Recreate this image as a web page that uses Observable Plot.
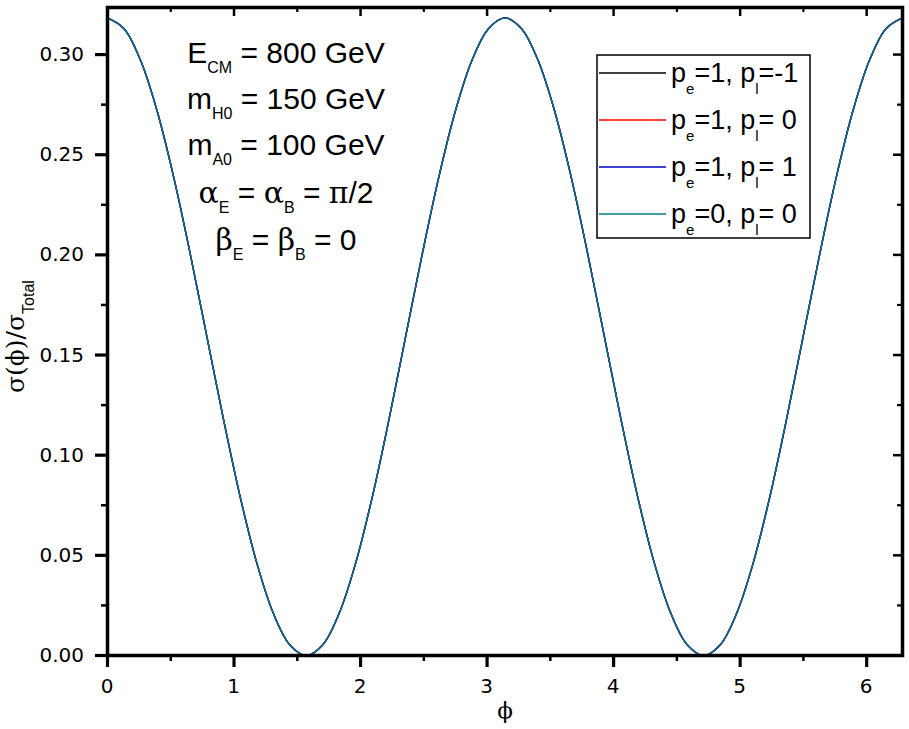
<!DOCTYPE html>
<html>
<head>
<meta charset="utf-8">
<script src="https://cdn.jsdelivr.net/npm/d3@7"></script>
<script src="https://cdn.jsdelivr.net/npm/@observablehq/plot@0.6"></script>
<style>
  body { margin: 0; background: #fff; }
  #chart { position: relative; width: 909px; height: 729px; }
</style>
</head>
<body>
<div id="chart"></div>
<script>
// ---- data ----
const phi = [0, 0.1309, 0.2618, 0.3927, 0.5236, 0.6545, 0.7854, 0.9163, 1.0472, 1.1781, 1.3090, 1.4399,
  1.5708, 1.7017, 1.8326, 1.9635, 2.0944, 2.2253, 2.3562, 2.4871, 2.6180, 2.7489, 2.8798, 3.0107,
  3.1416, 3.2725, 3.4034, 3.5343, 3.6652, 3.7961, 3.9270, 4.0579, 4.1888, 4.3197, 4.4506, 4.5815,
  4.7124, 4.8433, 4.9742, 5.1051, 5.2360, 5.3669, 5.4978, 5.6287, 5.7596, 5.8905, 6.0214, 6.1523, 6.2832];
const sigmaRatio = [0.3183, 0.3129, 0.2970, 0.2717, 0.2387, 0.2003, 0.1592, 0.1180, 0.0796, 0.0466, 0.0213, 0.0054,
  0.0000, 0.0054, 0.0213, 0.0466, 0.0796, 0.1180, 0.1592, 0.2003, 0.2387, 0.2717, 0.2970, 0.3129,
  0.3183, 0.3129, 0.2970, 0.2717, 0.2387, 0.2003, 0.1592, 0.1180, 0.0796, 0.0466, 0.0213, 0.0054,
  0.0000, 0.0054, 0.0213, 0.0466, 0.0796, 0.1180, 0.1592, 0.2003, 0.2387, 0.2717, 0.2970, 0.3129, 0.3183];
// all four polarisation curves coincide in the picture
const seriesNames = ["pe=1, pl=-1", "pe=1, pl=0", "pe=1, pl=1", "pe=0, pl=0"];
const seriesColors = ["#000000", "#ff0000", "#0000cc", "#007f7f"];
const seriesPe = ["1", "1", "1", "0"];
const seriesPl = ["-1", " 0", " 1", " 0"];
const xMajor = [0, 1, 2, 3, 4, 5, 6];
const xMinor = [0.5, 1.5, 2.5, 3.5, 4.5, 5.5];
const yMajor = [0, 0.05, 0.10, 0.15, 0.20, 0.25, 0.30];
const yMinor = [0.025, 0.075, 0.125, 0.175, 0.225, 0.275];
const xTickLabels = ["0", "1", "2", "3", "4", "5", "6"];
const yTickLabels = ["0.00", "0.05", "0.10", "0.15", "0.20", "0.25", "0.30"];

const rows = [];
seriesNames.forEach((s) => phi.forEach((p, j) => rows.push({series: s, phi: p, v: sigmaRatio[j]})));

const font = "'Liberation Sans', Arial, sans-serif";
const tickFont = "'DejaVu Sans', 'Liberation Sans', sans-serif";
const sym = "'DejaVu Serif', 'Liberation Serif', serif";
const W = 909, H = 729;
const mL = 107, mT = 7, mR = 7, mB = 74;
const pw = W - mL - mR, ph = H - mT - mB;

const plot = Plot.plot({
  width: W, height: H,
  marginLeft: mL, marginTop: mT, marginRight: mR, marginBottom: mB,
  style: {fontFamily: font, color: "#000", background: "#fff"},
  x: {domain: [0, 6.2832], label: null, axis: null},
  y: {domain: [0, 0.3235], label: null, axis: null},
  color: {domain: seriesNames, range: seriesColors},
  marks: [
    Plot.line(rows, {x: "phi", y: "v", z: "series", stroke: "series",
      strokeWidth: 1.4, curve: "catmull-rom",
      strokeOpacity: d => d.series === seriesNames[3] ? 0.9 : 1}),
    // bottom outward ticks
    Plot.ruleX(xMajor, {x: d => d, insetTop: ph, insetBottom: -12, strokeWidth: 3.2}),
    Plot.ruleX(xMinor, {x: d => d, insetTop: ph, insetBottom: -6, strokeWidth: 2.5}),
    // top inward ticks
    Plot.ruleX(xMajor, {x: d => d, insetBottom: ph - 9, strokeWidth: 2.5}),
    Plot.ruleX(xMinor, {x: d => d, insetBottom: ph - 5, strokeWidth: 2.2}),
    // left outward ticks
    Plot.ruleY(yMajor, {y: d => d, insetRight: pw, insetLeft: -12, strokeWidth: 3.2}),
    Plot.ruleY(yMinor, {y: d => d, insetRight: pw, insetLeft: -6, strokeWidth: 2.5}),
    // right inward ticks
    Plot.ruleY(yMajor, {y: d => d, insetLeft: pw - 9, strokeWidth: 2.5}),
    Plot.ruleY(yMinor, {y: d => d, insetLeft: pw - 5, strokeWidth: 2.2}),
    Plot.frame({stroke: "#000", strokeWidth: 3.5})
  ]
});
document.getElementById("chart").appendChild(plot);

const svg = d3.select(plot);
const xs = plot.scale("x"), ys = plot.scale("y");

// tick labels, placed through Plot's scales
const tl = svg.append("g").attr("font-family", tickFont).attr("font-size", 20).attr("fill", "#000");
xMajor.forEach((v, i) => {
  tl.append("text").attr("x", xs.apply(v)).attr("y", H - mB + 38)
    .attr("text-anchor", "middle").text(xTickLabels[i]);
});
yMajor.forEach((v, i) => {
  tl.append("text").attr("x", mL - 23).attr("y", ys.apply(v) + 7)
    .attr("text-anchor", "end").text(yTickLabels[i]);
});

// rich text with subscripts: parts = [text, isSub, fontFamily]
function rich(g, x, y, parts, size, subSize, subDy, anchor) {
  const t = g.append("text").attr("x", x).attr("y", y)
    .attr("font-family", font).attr("font-size", size).attr("fill", "#000")
    .attr("text-anchor", anchor || "start");
  let prevSub = false;
  parts.forEach(([s, isSub, fam]) => {
    const ts = t.append("tspan").text(s);
    if (isSub) { ts.attr("font-size", subSize).attr("dy", prevSub ? 0 : subDy); prevSub = true; }
    else { if (prevSub) ts.attr("dy", -subDy); prevSub = false; }
    if (fam) ts.attr("font-family", fam);
  });
  return t;
}

// annotation block
const ann = svg.append("g");
const aS = 30, aSub = 16, aDy = 10, ax = 286;
rich(ann, ax, 63, [["E", false], ["CM", true], [" = 800 GeV", false]], aS, aSub, aDy, "middle");
rich(ann, ax, 109, [["m", false], ["H0", true], [" = 150 GeV", false]], aS, aSub, aDy, "middle");
rich(ann, ax, 155, [["m", false], ["A0", true], [" = 100 GeV", false]], aS, aSub, aDy, "middle");
rich(ann, ax, 203, [["α", false, sym], ["E", true], [" = ", false], ["α", false, sym], ["B", true], [" = ", false], ["π", false, sym], ["/2", false]], aS, aSub, aDy, "middle");
rich(ann, ax, 250, [["β", false, sym], ["E", true], [" = ", false], ["β", false, sym], ["B", true], [" = 0", false]], aS, aSub, aDy, "middle");

// legend
const lg = svg.append("g");
lg.append("rect").attr("x", 597).attr("y", 55).attr("width", 213).attr("height", 183)
  .attr("fill", "#fff").attr("stroke", "#000").attr("stroke-width", 1.5);
seriesNames.forEach((s, i) => {
  const yy = 73 + i * 47;
  lg.append("line").attr("x1", 599).attr("x2", 666).attr("y1", yy).attr("y2", yy)
    .attr("stroke", seriesColors[i]).attr("stroke-width", 1.3);
  rich(lg, 671, yy + 9, [["p", false], ["e", true], ["=" + seriesPe[i] + ", p", false], ["l", true], ["=" + seriesPl[i], false]], 27, 15, 12, "start");
});

// axis titles
rich(svg.append("g"), 505, 718, [["ϕ", false, sym]], 23, 14, 0, "middle");
const yl = svg.append("g").attr("transform", "translate(24,393) rotate(-90)");
rich(yl, 0, 0, [["σ(ϕ)/σ", false, sym], ["Total", true]], 25, 16, 10, "start");
</script>
</body>
</html>
